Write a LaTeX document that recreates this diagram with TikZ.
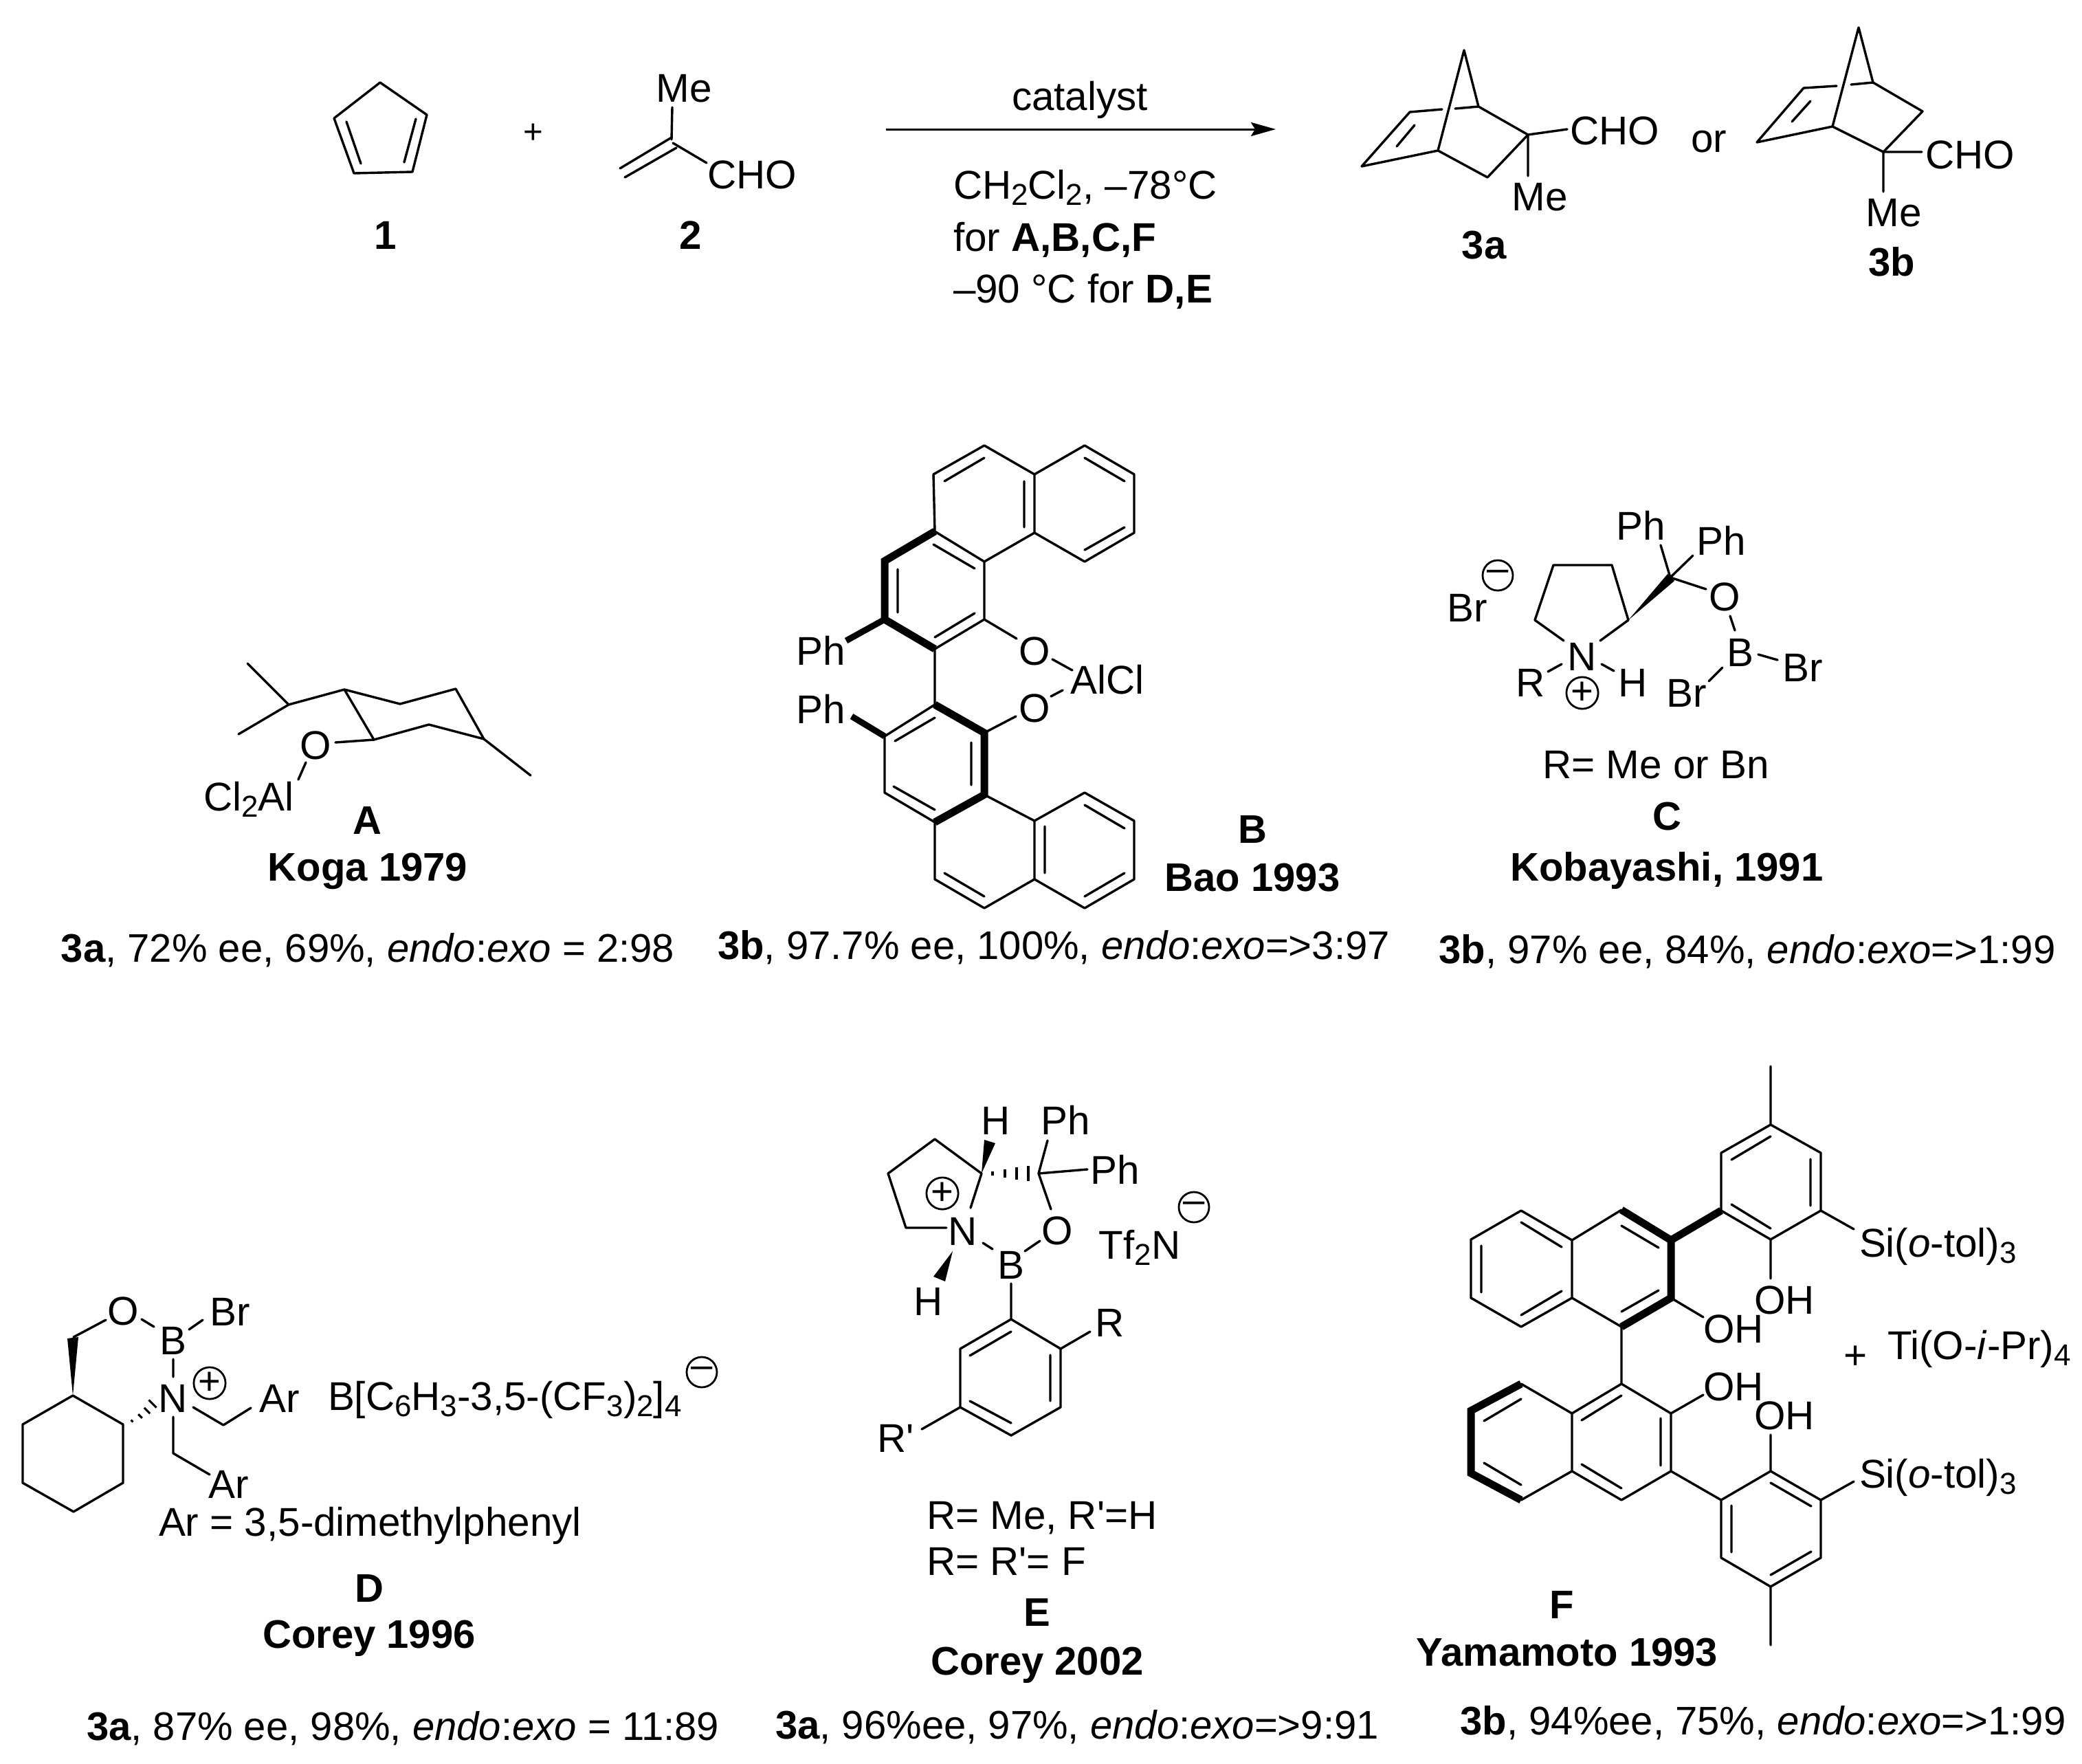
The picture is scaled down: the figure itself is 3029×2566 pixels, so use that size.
\documentclass[tikz,border=0pt]{standalone}
\usepackage{fontspec}
\setmainfont{Liberation Sans}
\usepackage{tikz}
\usetikzlibrary{arrows.meta}
\newcommand{\chemsub}[1]{\raisebox{-0.17em}{\fontsize{12.5}{13}\selectfont #1}}

\begin{document}
\begin{tikzpicture}[
  x=0.01cm,y=-0.01cm,
  bond/.style={line width=0.034cm,line cap=round,line join=round},
  thickbond/.style={line width=0.11cm,line cap=butt,line join=miter},
  wedgefill/.style={fill=black,draw=none},
  atomtext/.style={inner sep=0,outer sep=0,text height=0.42cm,text depth=0pt,font=\fontsize{16.6}{19}\selectfont},
  compound/.style={atomtext,font=\fontsize{16.5}{19}\selectfont\bfseries},
  resultline/.style={atomtext,font=\fontsize{16.5}{19}\selectfont},
  chargemark/.style={draw,circle,line width=0.028cm,inner sep=0,minimum size=0.44cm,font=\fontsize{16}{19}\selectfont}
]
\useasboundingbox (0,0) rectangle (3029,2566);

\draw[bond] (553,120)--(621,167)--(600,250)--(515,252)--(486,172)--cycle;
\draw[bond] (504,177)--(525,238) (605,173)--(588,236);
\node[atomtext] (dienenum) at (561,341) {\textbf{1}};
\node[atomtext,font=\fontsize{14}{16}\selectfont] (plusA) at (776,187) {+};

\draw[bond] (978,156)--(977,203) (977,200)--(902,245) (984,215)--(909,258) (979,208)--(1028,237);
\node[atomtext] (enalMe) at (995,127) {Me};
\node[atomtext] (enalCHO) at (1094,253) {CHO};
\node[atomtext] (enalnum) at (1005,341) {\textbf{2}};

\coordinate (arrowL) at (1289,188);
\coordinate (arrowR) at (1856,188);
\draw[line width=0.03cm,-{Stealth[length=0.36cm,width=0.2cm,inset=0.06cm]}] (arrowL) -- (arrowR);
\node[atomtext] (catalyst) at (1571,139) {catalyst};
\node[atomtext,anchor=west] (condA) at (1387,268) {CH\chemsub{2}Cl\chemsub{2}, –78°C};
\node[atomtext,anchor=west] (condB) at (1387,344) {for \textbf{A,B,C,F}};
\node[atomtext,anchor=west] (condC) at (1387,419) {–90 °C for \textbf{D,E}};

\draw[bond] (2092,219)--(2130,73)--(2151,155)--(2223,196)--(2164,258)--(2092,219)--(1981,242)--(2051,163)--(2098,159);
\draw[bond] (2117,158)--(2151,155) (2058,182)--(2032,213) (2223,196)--(2280,188) (2223,196)--(2223,256);
\node[atomtext] (prodaCHO) at (2349,189) {CHO};
\node[atomtext] (prodaMe) at (2240,285) {Me};
\node[compound] (prodanum) at (2159,355) {3a};
\node[atomtext] (orword) at (2486,200) {or};

\draw[bond] (2666,184)--(2704,40)--(2725,120)--(2797,162)--(2740,221)--(2666,184)--(2556,207)--(2624,128)--(2672,125);
\draw[bond] (2693,123)--(2725,120) (2634,147)--(2607,177) (2740,221)--(2796,221) (2740,221)--(2740,279);
\node[atomtext] (prodbCHO) at (2866,224) {CHO};
\node[atomtext] (prodbMe) at (2755,308) {Me};
\node[compound] (prodbnum) at (2752,380) {3b};

\draw[bond] (360,965)--(420,1025)--(347,1068) (420,1025)--(501,1003)--(582,1024)--(663,1002)--(704,1075)--(624,1054)--(544,1076)--(501,1003);
\draw[bond] (704,1075)--(772,1128) (544,1076)--(488,1080) (445,1109)--(434,1134);
\node[atomtext] (kogaO) at (459,1083) {O};
\node[atomtext] (kogaAl) at (362,1158) {Cl\chemsub{2}Al};
\node[compound] (kogaA) at (534,1192) {A};
\node[compound] (koganame) at (535,1260) {Koga 1979};
\node[resultline] (kogaresult) at (535,1378) {\textbf{3a}, 72\% ee, 69\%, \textit{endo}:\textit{exo} = 2:98};

\draw[bond] (1360,773)--(1358,690)--(1432,648)--(1505,690)--(1505,775)--(1432,817)--(1360,773);
\draw[bond] (1505,690)--(1578,648)--(1650,690)--(1650,775)--(1578,817)--(1505,775);
\draw[bond] (1432,817)--(1432,901)--(1360,944)--(1360,1025);
\draw[bond] (1432,901)--(1479,929) (1531,959)--(1560,975) (1529,1013)--(1546,1004) (1478,1042)--(1432,1066);
\draw[bond] (1374,700)--(1432,666) (1490,700)--(1490,767) (1578,666)--(1636,700) (1636,767)--(1578,800) (1358,792)--(1418,827) (1306,828)--(1306,891) (1360,927)--(1418,892);
\draw[thickbond] (1360,773)--(1287,816)--(1287,901)--(1360,944);
\draw[line width=0.09cm] (1287,901)--(1231,932) (1287,1071)--(1239,1042);
\draw[bond] (1360,1025)--(1287,1071)--(1287,1153)--(1360,1196)--(1360,1279)--(1432,1321)--(1505,1279)--(1505,1194)--(1432,1156);
\draw[bond] (1505,1194)--(1578,1153)--(1650,1194)--(1650,1279)--(1578,1321)--(1505,1279);
\draw[bond] (1302,1078)--(1360,1044) (1413,1080)--(1413,1142) (1300,1144)--(1360,1178) (1374,1270)--(1432,1304) (1520,1202)--(1520,1270) (1578,1171)--(1636,1205) (1636,1270)--(1578,1304);
\draw[thickbond] (1360,1025)--(1432,1066)--(1432,1156)--(1360,1196);
\node[atomtext] (baoOa) at (1505,946) {O};
\node[atomtext] (baoOb) at (1505,1029) {O};
\node[atomtext] (baoAl) at (1611,988) {AlCl};
\node[atomtext] (baoPha) at (1194,946) {Ph};
\node[atomtext] (baoPhb) at (1194,1031) {Ph};
\node[compound] (baoB) at (1822,1205) {B};
\node[compound] (baoname) at (1822,1275) {Bao 1993};
\node[resultline] (baoresult) at (1533,1374) {\textbf{3b}, 97.7\% ee, 100\%, \textit{endo}:\textit{exo}=>3:97};

\draw[bond] (2275,932)--(2233,902)--(2260,822)--(2345,822)--(2369,902)--(2328,932);
\fill[wedgefill] (2369,902)--(2426,835)--(2436,845)--cycle;
\draw[bond] (2416,793)--(2430,840)--(2482,857) (2463,808)--(2430,840);
\draw[bond] (2517,896)--(2524,917) (2558,952)--(2586,960) (2506,971)--(2486,991) (2272,966)--(2252,977) (2330,966)--(2348,976);
\node[atomtext] (kobaN) at (2302,954) {N};
\node[atomtext] (kobaPha) at (2387,764) {Ph};
\node[atomtext] (kobaPhb) at (2504,786) {Ph};
\node[atomtext] (kobaO) at (2509,867) {O};
\node[atomtext] (kobaB) at (2532,948) {B};
\node[atomtext] (kobaBra) at (2623,970) {Br};
\node[atomtext] (kobaBrb) at (2454,1007) {Br};
\node[atomtext] (kobaR) at (2227,992) {R};
\node[atomtext] (kobaH) at (2376,992) {H};
\node[atomtext] (kobaBrion) at (2135,883) {Br};
\node[chargemark] (kobaplus) at (2302,1008) {+};
\node[chargemark] (kobaminus) at (2179,837) {–};
\node[atomtext] (kobaRdef) at (2409,1111) {R= Me or Bn};
\node[compound] (kobaC) at (2425,1186) {C};
\node[compound] (kobaname) at (2425,1260) {Kobayashi, 1991};
\node[resultline] (kobaresult) at (2542,1380) {\textbf{3b}, 97\% ee, 84\%, \textit{endo}:\textit{exo}=>1:99};

\draw[bond] (106,2030)--(179,2072)--(179,2157)--(107,2199)--(33,2157)--(33,2072)--cycle;
\fill[wedgefill] (106,2030)--(98,1947)--(114,1945)--cycle;
\draw[bond] (107,1945)--(154,1920) (206,1919)--(224,1930) (275,1934)--(295,1920) (252,1977)--(252,2003);
\draw[bond] (281,2047)--(325,2073)--(365,2048) (252,2061)--(252,2114)--(305,2145);
\foreach \hx/\hy/\hl in {192/2067/2,204/2060/4,214/2052/6,222/2042/8}
  \draw[line width=0.03cm] (\hx-\hl*0.7,\hy-\hl*0.7) -- (\hx+\hl*0.7,\hy+\hl*0.7);
\node[atomtext] (coreyO) at (179,1906) {O};
\node[atomtext] (coreyB) at (252,1949) {B};
\node[atomtext] (coreyBr) at (335,1907) {Br};
\node[atomtext] (coreyN) at (252,2033) {N};
\node[atomtext] (coreyAra) at (407,2033) {Ar};
\node[atomtext] (coreyArb) at (333,2158) {Ar};
\node[atomtext,anchor=west] (coreyanion) at (477,2030) {B[C\chemsub{6}H\chemsub{3}-3,5-(CF\chemsub{3})\chemsub{2}]\chemsub{4}};
\node[chargemark] (coreyplus) at (305,2012) {+};
\node[chargemark] (coreyminus) at (1021,1996) {–};
\node[atomtext,anchor=west] (coreyArdef) at (231,2213) {Ar = 3,5-dimethylphenyl};
\node[compound] (coreyD) at (537,2309) {D};
\node[compound] (coreyname) at (537,2376) {Corey 1996};
\node[resultline] (coreyresult) at (586,2510) {\textbf{3a}, 87\% ee, 98\%, \textit{endo}:\textit{exo} = 11:89};

\draw[bond] (1377,1786)--(1318,1786)--(1292,1707)--(1360,1657)--(1428,1707)--(1412,1757);
\fill[wedgefill] (1428,1707)--(1432,1658)--(1448,1663)--cycle;
\fill[wedgefill] (1386,1820)--(1358,1857)--(1375,1864)--cycle;
\foreach \hx/\hl in {1444/3,1462/6,1479/9,1496/11}
  \draw[line width=0.034cm] (\hx,1707-\hl) -- (\hx,1707+\hl);
\draw[bond] (1524,1659)--(1511,1707)--(1582,1701) (1511,1707)--(1529,1759);
\draw[bond] (1513,1805)--(1491,1820) (1430,1808)--(1444,1817) (1471,1867)--(1471,1919);
\draw[bond] (1471,1919)--(1543,1962)--(1543,2047)--(1471,2088)--(1397,2047)--(1397,1962)--cycle;
\draw[bond] (1411,1972)--(1471,1937) (1528,1971)--(1528,2038) (1411,2038)--(1471,2070);
\draw[bond] (1543,1962)--(1586,1937) (1397,2047)--(1341,2079);
\node[atomtext] (triflN) at (1401,1790) {N};
\node[atomtext] (triflHa) at (1449,1629) {H};
\node[atomtext] (triflPha) at (1550,1629) {Ph};
\node[atomtext] (triflPhb) at (1622,1701) {Ph};
\node[atomtext] (triflO) at (1538,1789) {O};
\node[atomtext] (triflB) at (1471,1839) {B};
\node[atomtext] (triflHb) at (1351,1892) {H};
\node[atomtext] (triflR) at (1615,1923) {R};
\node[atomtext] (triflRp) at (1303,2091) {R\textquotesingle};
\node[atomtext] (triflanion) at (1658,1810) {Tf\chemsub{2}N};
\node[chargemark] (triflplus) at (1371,1736) {+};
\node[chargemark] (triflminus) at (1737,1756) {–};
\node[atomtext,anchor=west] (triflRdefa) at (1348,2203) {R= Me, R\textquotesingle=H};
\node[atomtext,anchor=west] (triflRdefb) at (1348,2270) {R= R\textquotesingle= F};
\node[compound] (triflE) at (1509,2344) {E};
\node[compound] (triflname) at (1509,2415) {Corey 2002};
\node[resultline] (triflresult) at (1567,2508) {\textbf{3a}, 96\%ee, 97\%, \textit{endo}:\textit{exo}=>9:91};

\draw[bond] (2576,1551)--(2576,1636)--(2649,1677)--(2649,1761)--(2576,1803)--(2504,1761)--(2504,1677)--(2576,1636);
\draw[bond] (2519,1687)--(2576,1653) (2634,1686)--(2634,1754) (2519,1752)--(2576,1787);
\draw[bond] (2649,1761)--(2697,1788) (2576,1803)--(2576,1860);
\draw[bond] (2287,1804)--(2213,1761)--(2140,1803)--(2140,1888)--(2213,1930)--(2287,1888)--cycle;
\draw[bond] (2213,1778)--(2272,1814) (2155,1812)--(2155,1880) (2213,1913)--(2272,1878);
\draw[bond] (2287,1804)--(2359,1760) (2287,1888)--(2359,1930);
\draw[thickbond] (2359,1760)--(2431,1804)--(2431,1888)--(2359,1930) (2431,1804)--(2504,1761);
\draw[bond] (2359,1783)--(2413,1815) (2413,1877)--(2359,1908);
\draw[bond] (2431,1888)--(2478,1916) (2359,1930)--(2359,2013);
\draw[bond] (2359,2013)--(2431,2056)--(2431,2140)--(2359,2182)--(2287,2140)--(2287,2056)--cycle;
\draw[bond] (2359,2030)--(2301,2066) (2416,2063)--(2416,2132) (2359,2165)--(2301,2130);
\draw[bond] (2287,2056)--(2213,2013) (2287,2140)--(2213,2182);
\draw[thickbond] (2213,2013)--(2140,2052)--(2140,2143)--(2213,2182);
\draw[bond] (2213,2035)--(2159,2067) (2159,2128)--(2213,2160);
\draw[bond] (2431,2056)--(2478,2029) (2431,2140)--(2504,2182);
\draw[bond] (2576,2140)--(2649,2182)--(2649,2266)--(2576,2308)--(2504,2266)--(2504,2182)--cycle;
\draw[bond] (2576,2157)--(2635,2191) (2519,2190)--(2519,2258) (2576,2291)--(2635,2257);
\draw[bond] (2576,2140)--(2576,2087) (2649,2182)--(2697,2155) (2576,2308)--(2576,2393);
\node[atomtext,anchor=west] (binolSia) at (2705,1807) {Si(\textit{o}-tol)\chemsub{3}};
\node[atomtext] (binolOHa) at (2596,1890) {OH};
\node[atomtext] (binolOHb) at (2522,1932) {OH};
\node[atomtext] (binolplus) at (2700,1970) {+};
\node[atomtext,anchor=west] (binolTi) at (2746,1956) {Ti(O-\textit{i}-Pr)\chemsub{4}};
\node[atomtext] (binolOHc) at (2522,2016) {OH};
\node[atomtext] (binolOHd) at (2596,2058) {OH};
\node[atomtext,anchor=west] (binolSib) at (2705,2143) {Si(\textit{o}-tol)\chemsub{3}};
\node[compound] (binolF) at (2272,2333) {F};
\node[compound] (binolname) at (2280,2402) {Yamamoto 1993};
\node[resultline] (binolresult) at (2565,2502) {\textbf{3b}, 94\%ee, 75\%, \textit{endo}:\textit{exo}=>1:99};

\end{tikzpicture}
\end{document}
